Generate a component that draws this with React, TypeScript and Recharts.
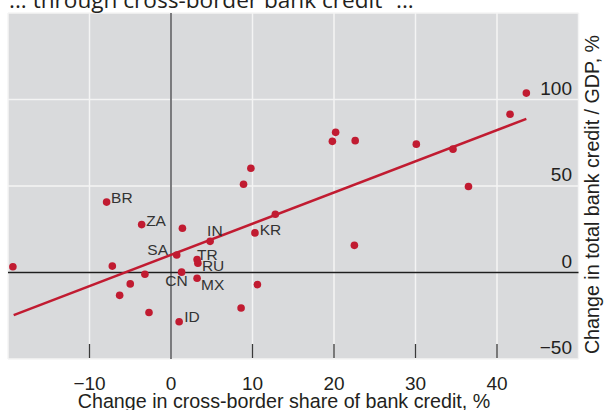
import React from 'react';
import {
  ScatterChart,
  Scatter,
  XAxis,
  YAxis,
  CartesianGrid,
  ReferenceLine,
} from 'recharts';

// change in cross-border share of bank credit, %
const shareChange = [
  -19.4, -7.9, -3.6, 1.4, 4.8, 10.3, 12.8, 0.7, 3.2, 3.3, -7.2, -3.2, 1.3, 3.2, -5.0, 10.6,
  -6.3, -2.7, 8.6, 1.0, 8.9, 9.8, 19.8, 20.2, 22.6, 30.1, 34.6, 36.5, 41.6, 43.6, 22.5,
];
// change in total bank credit / GDP, %
const creditChange = [
  3.3, 40.7, 27.7, 25.6, 18.0, 22.9, 33.7, 10.1, 7.5, 5.4, 3.7, -1.0, 0.2, -3.3, -6.6, -7.0,
  -13.2, -23.1, -20.5, -28.5, 51.0, 60.3, 75.8, 81.0, 76.2, 74.2, 71.3, 49.7, 91.5, 103.7, 15.7,
];
const countryCodes = [
  '', 'BR', 'ZA', '', 'IN', 'KR', '', 'SA', 'TR', 'RU', '', '', 'CN', 'MX', '', '',
  '', '', '', 'ID', '', '', '', '', '', '', '', '', '', '', '',
];
// fitted line end points
const fitX = [-19.3, 43.6];
const fitY = [-24.6, 88.8];

const xTicks = [-20, -10, 0, 10, 20, 30, 40, 50];
const yTicks = [-50, 0, 50, 100, 150];

const RED = '#c11b31';
const TEXT = '#231f20';

// where each country code sits relative to its dot
const labelPos: Record<string, { dx: number; dy: number; anchor: 'start' | 'middle' | 'end' }> = {
  BR: { dx: 4.5, dy: 0.7, anchor: 'start' },
  ZA: { dx: 4.5, dy: 1, anchor: 'start' },
  IN: { dx: -3, dy: -5, anchor: 'start' },
  KR: { dx: 4.7, dy: 2.3, anchor: 'start' },
  SA: { dx: -8.7, dy: 0.3, anchor: 'end' },
  TR: { dx: 0, dy: 0.5, anchor: 'start' },
  RU: { dx: 4, dy: 8, anchor: 'start' },
  CN: { dx: -5.2, dy: 14.3, anchor: 'middle' },
  MX: { dx: 4, dy: 11.6, anchor: 'start' },
  ID: { dx: 5, dy: -0.3, anchor: 'start' },
};

const points = shareChange.map((x, i) => ({ x, y: creditChange[i], code: countryCodes[i] }));
const fitLine = fitX.map((x, i) => ({ x, y: fitY[i] }));

const fmt = (v: number) => (v < 0 ? '\u2212' + Math.abs(v) : String(v));

function Dot(props: any) {
  const { cx, cy, payload } = props;
  const pos = payload.code ? labelPos[payload.code] : null;
  return (
    <g>
      <circle cx={cx} cy={cy} r={3.8} fill={RED} />
      {pos && (
        <text
          x={cx + pos.dx}
          y={cy + pos.dy}
          textAnchor={pos.anchor}
          fontSize={15.5}
          fontFamily="'Liberation Sans', Arial, sans-serif"
          fill="#333"
        >
          {payload.code}
        </text>
      )}
    </g>
  );
}

function XTick(props: any) {
  const { x, y, payload } = props;
  const v = payload.value;
  if (v === -20 || v === 50) return <g />;
  return (
    <g>
      {v !== 0 && <line x1={x} x2={x} y1={y - 15} y2={y - 1} stroke="#3a3a3a" strokeWidth={1.3} />}
      <text
        x={x}
        y={y + 31}
        textAnchor="middle"
        fontSize={19}
        fontFamily="'Liberation Sans', Arial, sans-serif"
        fill={TEXT}
      >
        {fmt(v)}
      </text>
    </g>
  );
}

function YTick(props: any) {
  const { x, y, payload } = props;
  const v = payload.value;
  if (v === 150) return <g />;
  return (
    <text
      x={x - 6.5}
      y={y - 5}
      textAnchor="end"
      fontSize={19}
      fontFamily="'Liberation Sans', Arial, sans-serif"
      fill={TEXT}
    >
      {fmt(v)}
    </text>
  );
}

export default function App() {
  return (
    <div style={{ position: 'absolute', left: 0, top: 0, width: 605, height: 410, background: '#fff' }}>
      <ScatterChart width={605} height={410} margin={{ top: 13, right: 0, bottom: 0, left: 8 }}>
        <CartesianGrid fill="#d9dadc" stroke="#f4f4f4" strokeWidth={1.5} />
        <XAxis
          type="number"
          dataKey="x"
          domain={[-20, 50]}
          ticks={xTicks}
          interval={0}
          height={51}
          axisLine={false}
          tickLine={false}
          tickSize={0}
          tickMargin={0}
          tick={<XTick />}
        />
        <YAxis
          type="number"
          dataKey="y"
          orientation="right"
          domain={[-50, 150]}
          ticks={yTicks}
          interval={0}
          width={26.5}
          axisLine={false}
          tickLine={false}
          tickSize={0}
          tickMargin={0}
          tick={<YTick />}
        />
        <ReferenceLine x={0} stroke="#5d5d61" strokeWidth={1.6} />
        <ReferenceLine y={0} stroke="#1e1e1e" strokeWidth={1.3} />
        <Scatter
          data={fitLine}
          line={{ stroke: RED, strokeWidth: 2.5 }}
          shape={() => <g />}
          isAnimationActive={false}
        />
        <Scatter data={points} shape={<Dot />} isAnimationActive={false} />
      </ScatterChart>
      <svg
        width={605}
        height={410}
        style={{ position: 'absolute', left: 0, top: 0, pointerEvents: 'none' }}
      >
        <text x={9} y={7.5} fontSize={22.6} fontFamily="'Open Sans', sans-serif" fill={TEXT}>
          ... through cross-border bank credit¹ ...
        </text>
        <text
          x={284}
          y={408}
          textAnchor="middle"
          fontSize={19.7}
          fontFamily="'Liberation Sans', Arial, sans-serif"
          fill={TEXT}
        >
          Change in cross-border share of bank credit, %
        </text>
        <text
          transform="translate(598.5, 194.5) rotate(-90)"
          textAnchor="middle"
          fontSize={19.7}
          fontFamily="'Liberation Sans', Arial, sans-serif"
          fill={TEXT}
        >
          Change in total bank credit / GDP, %
        </text>
      </svg>
    </div>
  );
}
